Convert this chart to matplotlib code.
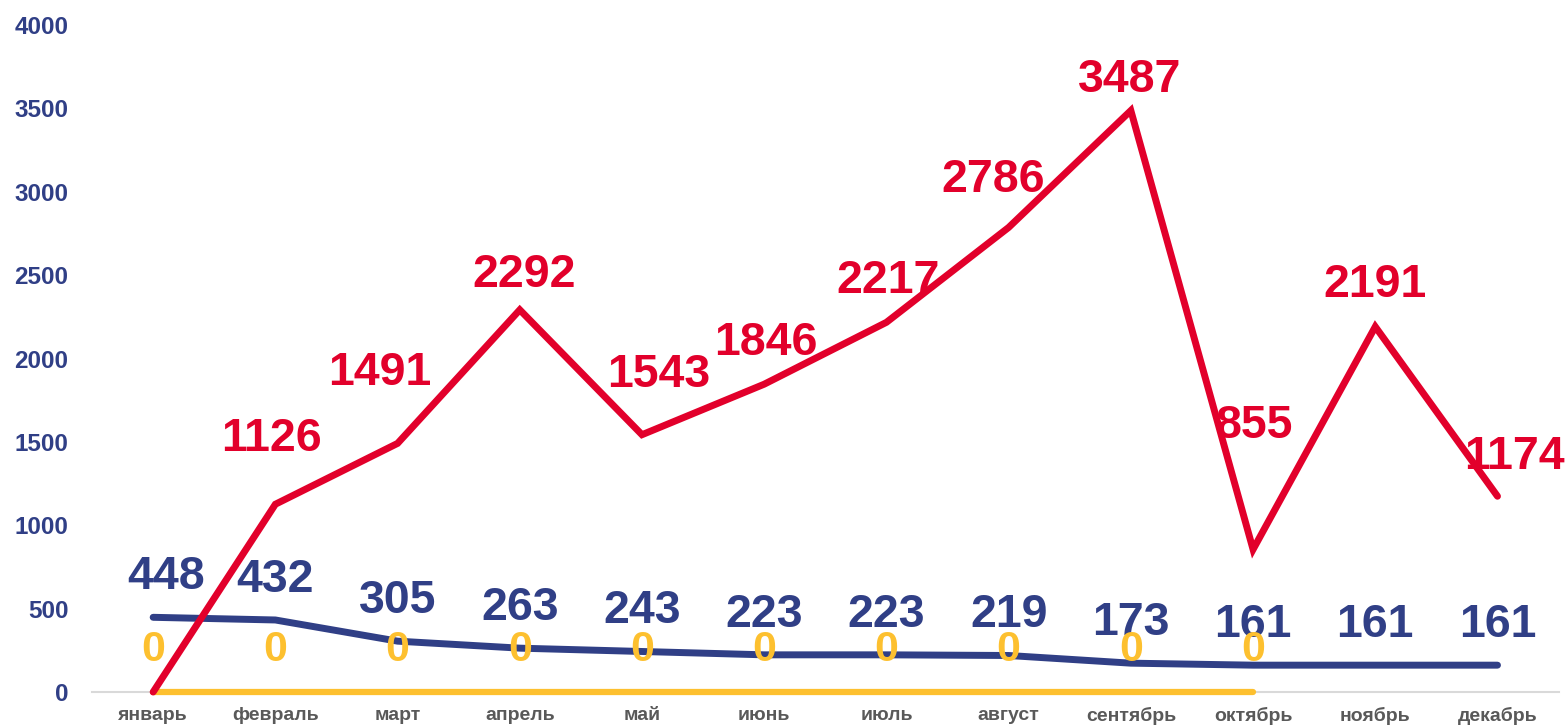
import matplotlib.pyplot as plt
import numpy as np

months = ['январь', 'февраль', 'март', 'апрель', 'май', 'июнь',
          'июль', 'август', 'сентябрь', 'октябрь', 'ноябрь', 'декабрь']
red_vals = [0, 1126, 1491, 2292, 1543, 1846, 2217, 2786, 3487, 855, 2191, 1174]
blue_vals = [448, 432, 305, 263, 243, 223, 223, 219, 173, 161, 161, 161]
yellow_vals = [0, 0, 0, 0, 0, 0, 0, 0, 0, 0]

# label offsets in points (dx, dy) - labels were moved by hand in the original
red_offsets = [None, (-3, 47), (-13, 51), (3, 25), (12, 43), (1, 30), (1, 30),
               (-11, 34), (-1, 22), (1, 89), (0, 30), (12, 28)]
blue_offsets = [(9, 29)] + [(0, 29)] * 11

RED = '#E2002B'
BLUE = '#303F86'
YELLOW = '#FDC02F'

plt.rcParams['font.family'] = ['Liberation Sans', 'DejaVu Sans']

fig = plt.figure(figsize=(15.68, 7.25), dpi=100)
ax = fig.add_axes([0.0587, 0.0455, 0.9353, 0.92])

x = np.arange(len(months))
ax.plot(x[:len(yellow_vals)], yellow_vals, color=YELLOW, lw=4.5, solid_capstyle='round',
        zorder=2, clip_on=False)
ax.plot(x, blue_vals, color=BLUE, lw=5, solid_capstyle='round', zorder=3, clip_on=False)
ax.plot(x, red_vals, color=RED, lw=5, solid_capstyle='round', solid_joinstyle='miter',
        zorder=4, clip_on=False)

for i, v in enumerate(red_vals):
    if red_offsets[i] is None:
        continue
    ax.annotate(str(v), (x[i], v), xytext=red_offsets[i], textcoords='offset points',
                ha='center', va='center', color=RED, fontsize=33.5, fontweight='bold', zorder=6)
for i, v in enumerate(blue_vals):
    ax.annotate(str(v), (x[i], v), xytext=blue_offsets[i], textcoords='offset points',
                ha='center', va='center', color=BLUE, fontsize=33.5, fontweight='bold', zorder=5)
for i, v in enumerate(yellow_vals):
    ax.annotate(str(v), (x[i], v), xytext=(0, 30), textcoords='offset points',
                ha='center', va='center', color=YELLOW, fontsize=31, fontweight='bold', zorder=5)

ax.set_xlim(-0.5, len(months) - 0.5)
ax.set_ylim(0, 4000)
ax.set_yticks(np.arange(0, 4001, 500))
ax.set_xticks(x)
ax.set_xticklabels(months)
ax.tick_params(axis='y', length=0, pad=17, labelsize=17.5, labelcolor=BLUE)
ax.tick_params(axis='x', length=0, pad=10.5, labelsize=14, labelcolor='#595959')
for lab in ax.get_xticklabels() + ax.get_yticklabels():
    lab.set_fontweight('bold')

for side in ['top', 'right', 'left']:
    ax.spines[side].set_visible(False)
ax.spines['bottom'].set_color('#D9D9D9')
ax.spines['bottom'].set_linewidth(1.5)
ax.spines['bottom'].set_zorder(1)

fig.savefig('out.png', dpi=100)
